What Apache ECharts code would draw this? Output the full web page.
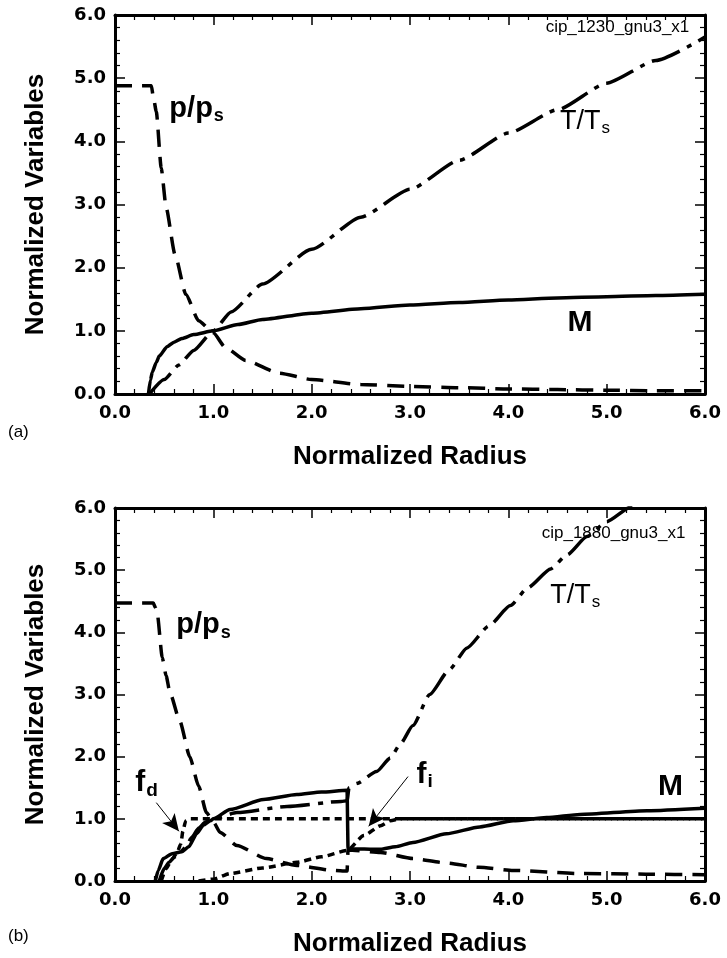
<!DOCTYPE html>
<html><head><meta charset="utf-8">
<script src="https://cdn.jsdelivr.net/npm/echarts@6/dist/echarts.min.js"></script>
<style>html,body{margin:0;padding:0;background:#fff}#c{width:727px;height:958px}</style>
</head><body><div id="c"></div>
<script>
// ---- data: panel (a) ----
const pressureA = [[0,4.88],[0.37,4.88],[0.39,4.7],[0.42,4.47],[0.47,3.58],[0.52,2.95],[0.61,2.21],[0.72,1.58],[0.85,1.16],[1.0,0.97],[1.12,0.74],[1.33,0.53],[1.67,0.33],[2.0,0.23],[2.5,0.15],[3.0,0.12],[3.5,0.1],[4.0,0.08],[4.5,0.07],[5.0,0.06],[5.5,0.05],[6.0,0.05]];
const machA = [[0.34,0],[0.36,0.22],[0.38,0.35],[0.42,0.5],[0.45,0.6],[0.53,0.75],[0.6,0.82],[0.68,0.88],[0.8,0.94],[1.0,1.0],[1.25,1.1],[1.5,1.18],[2.0,1.28],[2.5,1.35],[3.0,1.41],[3.5,1.45],[4.0,1.49],[4.5,1.52],[5.0,1.54],[5.5,1.56],[6.0,1.58]];
const tempA = [[0.35,0],[0.5,0.23],[0.65,0.46],[0.8,0.69],[1.0,1.0],[1.18,1.3],[1.5,1.74],[2.0,2.29],[2.5,2.8],[3.0,3.24],[3.5,3.7],[4.0,4.13],[4.5,4.5],[5.0,4.92],[5.5,5.28],[6.0,5.65]];
// ---- data: panel (b) ----
const pressureB = [[0,4.47],[0.39,4.47],[0.41,4.4],[0.43,4.3],[0.48,3.6],[0.52,3.3],[0.56,3.02],[0.66,2.57],[0.76,2.0],[0.85,1.53],[0.93,1.1],[1.0,0.95],[1.07,0.78],[1.24,0.57],[1.54,0.36],[1.85,0.25],[2.22,0.17],[2.36,0.16],[2.37,0.5],[2.7,0.46],[3.03,0.36],[3.37,0.29],[3.7,0.22],[4.05,0.17],[4.73,0.12],[5.4,0.11],[6.0,0.1]];
const machB = [[0.41,0],[0.44,0.17],[0.49,0.36],[0.58,0.44],[0.68,0.47],[0.75,0.55],[0.83,0.76],[0.9,0.9],[0.97,0.97],[1.0,1.0],[1.17,1.15],[1.51,1.31],[1.85,1.39],[2.1,1.43],[2.36,1.46],[2.37,0.52],[2.7,0.51],[2.85,0.55],[3.03,0.62],[3.37,0.76],[3.71,0.87],[4.05,0.97],[4.39,1.02],[4.73,1.07],[5.41,1.13],[6.0,1.17]];
const tempB = [[0.45,0],[0.5,0.2],[0.55,0.3],[0.6,0.38],[0.66,0.45],[0.72,0.55],[0.78,0.7],[0.85,0.85],[0.92,0.95],[1.0,1.0],[1.24,1.1],[1.75,1.2],[2.3,1.28],[2.36,1.29],[2.38,1.5],[2.46,1.57],[2.66,1.76],[2.8,1.98],[2.9,2.2],[3.03,2.5],[3.2,3.0],[3.4,3.4],[3.58,3.75],[3.8,4.1],[4.02,4.43],[4.2,4.72],[4.43,5.02],[4.6,5.25],[4.8,5.54],[5.0,5.78],[5.25,6.02],[5.5,6.3],[6.0,6.8]];
const fracD = [[0.47,0],[0.52,0.2],[0.58,0.35],[0.63,0.45],[0.67,0.6],[0.69,0.8],[0.72,0.97],[0.75,1.0],[6.0,1.0]];
const fracI = [[0.85,0],[1.0,0.03],[1.17,0.12],[1.5,0.21],[1.85,0.3],[2.1,0.39],[2.36,0.49],[2.53,0.73],[2.7,0.89],[2.8,0.97],[2.9,1.0],[6.0,1.0]];
// ---- axis ticks ----
const axisMin = 0, axisMax = 6, axisStep = 1;
const panelTags = ['(a)', '(b)'];
const runIds = ['cip_1230_gnu3_x1', 'cip_1880_gnu3_x1'];

const FONT = 'Liberation Sans, Arial, Helvetica, sans-serif';
const chart = echarts.init(document.getElementById('c'), null, {renderer: 'canvas'});

function xAx(gi, pos) {
  return {
    type: 'value', gridIndex: gi, position: pos, min: axisMin, max: axisMax, interval: axisStep,
    axisLine: {show: true, onZero: false, lineStyle: {color: '#000', width: 3}},
    axisTick: {show: true, inside: true, length: 10, lineStyle: {color: '#000', width: 1.5}},
    minorTick: {show: true, splitNumber: 5, length: 5, lineStyle: {color: '#000', width: 1.2}},
    splitLine: {show: false},
    axisLabel: pos === 'bottom' ? {show: true, formatter: v => v.toFixed(1), color: '#000', fontFamily: 'DejaVu Sans', fontWeight: 'bold', fontSize: 18, margin: 10} : {show: false},
    name: pos === 'bottom' ? 'Normalized Radius' : '',
    nameLocation: 'middle', nameGap: 50,
    nameTextStyle: {color: '#000', fontFamily: FONT, fontWeight: 'bold', fontSize: 26}
  };
}
function yAx(gi, pos) {
  return {
    type: 'value', gridIndex: gi, position: pos, min: axisMin, max: axisMax, interval: axisStep,
    axisLine: {show: true, onZero: false, lineStyle: {color: '#000', width: 3}},
    axisTick: {show: true, inside: true, length: 10, lineStyle: {color: '#000', width: 1.5}},
    minorTick: {show: true, splitNumber: 5, length: 5, lineStyle: {color: '#000', width: 1.2}},
    splitLine: {show: false},
    axisLabel: pos === 'left' ? {show: true, formatter: v => v.toFixed(1), color: '#000', fontFamily: 'DejaVu Sans', fontWeight: 'bold', fontSize: 18, margin: 9} : {show: false},
    name: pos === 'left' ? 'Normalized Variables' : '',
    nameLocation: 'middle', nameGap: 66, nameRotate: 90,
    nameTextStyle: {color: '#000', fontFamily: FONT, fontWeight: 'bold', fontSize: 26}
  };
}
const DASH = [17, 10];
const DASHDOT = [30, 8, 5, 8];
const DOT = [7, 5];
function line(data, type, xi, yi, extra) {
  return Object.assign({
    type: 'line', data: data, xAxisIndex: xi, yAxisIndex: yi, showSymbol: false, symbol: 'none',
    smooth: 0.2, smoothMonotone: 'x', silent: true, clip: true, animation: false,
    lineStyle: {color: '#000', width: 3.5, type: type, cap: 'butt'}
  }, extra || {});
}
function txt(xi, yi, items) {
  return {
    type: 'scatter', xAxisIndex: xi, yAxisIndex: yi, symbolSize: 0, silent: true, animation: false,
    itemStyle: {color: '#000', opacity: 1},
    data: items.map(it => ({value: [it.x, it.y], itemStyle: {color: '#000', opacity: 1},
      label: {show: true, position: 'inside', formatter: it.t, rich: it.rich || {}, color: '#000', opacity: 1, fontFamily: FONT, fontSize: it.fs || 16, fontWeight: it.fw || 'normal'}}))
  };
}
const subRich = (bw, big, small, drop) => ({
  b: {fontFamily: FONT, fontSize: big, fontWeight: bw, color: '#000', lineHeight: big + 2, verticalAlign: 'top'},
  s: {fontFamily: FONT, fontSize: small, fontWeight: bw, color: '#000', lineHeight: small, padding: [drop, 0, 0, 1], verticalAlign: 'bottom'}
});
function arrow(from, to) {
  return {
    silent: true, symbol: ['none', 'arrow'], symbolSize: [12, 17], animation: false,
    lineStyle: {color: '#000', width: 1, type: 'solid', opacity: 1}, label: {show: false},
    data: [[{coord: from}, {coord: to}]]
  };
}

chart.setOption({
  animation: false,
  backgroundColor: '#fff',
  grid: [
    {left: 115, top: 15, width: 590, height: 379},
    {left: 115, top: 508, width: 590, height: 378}
  ],
  xAxis: [xAx(0, 'bottom'), xAx(0, 'top'), xAx(1, 'bottom'), xAx(1, 'top')],
  yAxis: [yAx(0, 'left'), yAx(0, 'right'), yAx(1, 'left'), yAx(1, 'right')],
  series: [
    line(pressureA, DASH, 0, 0),
    line(tempA, DASHDOT, 0, 0),
    line(machA, 'solid', 0, 0),
    line(pressureB, DASH, 2, 2),
    line(fracI, DOT, 2, 2, {markLine: arrow([2.98, 1.68], [2.58, 0.88])}),
    line(fracD, DOT, 2, 2, {markLine: arrow([0.42, 1.26], [0.65, 0.8])}),
    line(tempB, DASHDOT, 2, 2),
    line(machB, 'solid', 2, 2),
    txt(0, 0, [
      {x: 0.83, y: 4.5, t: '{b|p/p}{s|s}', rich: subRich('bold', 29, 18, 14)},
      {x: 4.78, y: 4.3, t: '{b|T/T}{s|s}', rich: subRich('normal', 27, 17, 14)},
      {x: 4.73, y: 1.13, t: 'M', fs: 30, fw: 'bold'},
      {x: 5.11, y: 5.81, t: runIds[0], fs: 17}
    ]),
    txt(2, 2, [
      {x: 0.9, y: 4.1, t: '{b|p/p}{s|s}', rich: subRich('bold', 29, 18, 14)},
      {x: 4.68, y: 4.58, t: '{b|T/T}{s|s}', rich: subRich('normal', 27, 17, 14)},
      {x: 5.65, y: 1.52, t: 'M', fs: 30, fw: 'bold'},
      {x: 0.32, y: 1.56, t: '{b|f}{s|d}', rich: subRich('bold', 30, 19, 16)},
      {x: 3.15, y: 1.7, t: '{b|f}{s|i}', rich: subRich('bold', 30, 19, 16)},
      {x: 5.07, y: 5.6, t: runIds[1], fs: 17}
    ])
  ],
  graphic: [
    {type: 'text', left: 8, top: 424, style: {text: panelTags[0], font: '17px ' + FONT, fill: '#000'}},
    {type: 'text', left: 8, top: 928, style: {text: panelTags[1], font: '17px ' + FONT, fill: '#000'}}
  ]
});
</script></body></html>
